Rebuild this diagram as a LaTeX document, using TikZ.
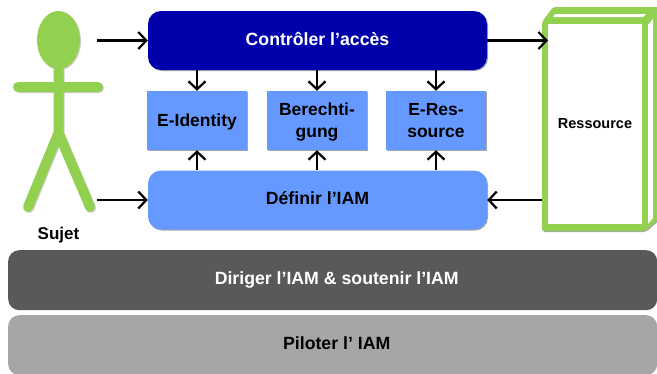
\documentclass[tikz,border=0pt]{standalone}
\usepackage{fontspec}
\setmainfont{Liberation Sans}
\usetikzlibrary{arrows.meta,shadows}
\definecolor{darkblue}{RGB}{0,0,170}
\definecolor{midblue}{RGB}{102,153,255}
\definecolor{figgreen}{RGB}{146,208,80}
\definecolor{darkbar}{RGB}{89,89,89}
\definecolor{lightbar}{RGB}{166,166,166}
\tikzset{
	flow/.style={draw=black, line width=2.2pt, -{Straight Barb[length=8pt,width=17pt,line width=2.2pt]}},
	softshadow/.style={drop shadow={shadow xshift=1pt, shadow yshift=-1pt, fill=black, opacity=0.35}},
	bar/.style={rounded corners=11pt, minimum height=60pt, minimum width=649pt, anchor=north west, inner sep=0pt, text depth=4pt, execute at begin node={\hspace*{8pt}}, font=\bfseries\fontsize{17.7}{20}\selectfont},
	mainbox/.style={fill=#1, rounded corners=13pt, minimum width=339pt, minimum height=59pt, inner sep=0pt, softshadow, text depth=4pt, font=\bfseries\fontsize{17.7}{21}\selectfont},
	subbox/.style={fill=midblue, minimum width=100pt, minimum height=59pt, inner sep=0pt, align=center, softshadow, text depth=0pt, font=\bfseries\fontsize{17.5}{22}\selectfont},
	limb/.style={draw=#1, line width=10pt, line cap=round, line join=round},
	caption/.style={inner sep=0pt, font=\bfseries\fontsize{#1}{18}\selectfont},
}
\begin{document}
\begin{tikzpicture}[x=1pt,y=-1pt]
	\useasboundingbox (0,0) rectangle (657,373);
	% bars
	\node[bar, fill=darkbar, text=white] (lead) at (8,250) {Diriger l'IAM \& soutenir l'IAM};
	\node[bar, fill=lightbar] (pilot) at (8,315) {Piloter l' IAM};
	% boxes
	\node[mainbox=darkblue, text=white] (control) at (317.5,40.5) {Contrôler l'accès};
	\node[mainbox=midblue] (define) at (317.5,200) {Définir l'IAM};
	\node[subbox] (identity) at (197,120.5) {E-Identity};
	\node[subbox] (rights) at (317,120.5) {Berechti-\\gung};
	\node[subbox] (source) at (436,120.5) {E-Res-\\source};
	% resource block
	\fill[figgreen, rounded corners=2pt, softshadow] (542,22) -- (553,7) -- (660,7) -- (660,218) -- (645,231) -- (542,231) -- cycle;
	\fill[white] (548,24) rectangle (642,224);
	\fill[white] (555,14) -- (646,14) -- (643,17) -- (553,17) -- cycle;
	\fill[white] (653,19) -- (653,218) -- (648,224) -- (648,25) -- cycle;
	\node[caption=14.5] (res) at (595,123.5) {Ressource};
	\coordinate (resin) at (548,40.5);
	\coordinate (resout) at (542,200);
	% person
	\fill[black!20] (59.5,41) ellipse (21.5pt and 29pt);
	\draw[limb=black!20] (59.5,66) -- (59.5,133) (19,88) -- (99,88) (29,208) -- (59.5,134) -- (91,208);
	\fill[figgreen] (58.5,40) ellipse (21.5pt and 29pt);
	\draw[limb=figgreen] (58.5,66) -- (58.5,133) (18,87) -- (98,87) (28,207) -- (58.5,133) -- (90,207);
	\coordinate (head) at (97,40.5);
	\coordinate (foot) at (97,200);
	\node[caption=17] (subj) at (58.5,235.5) {Sujet};
	% arrows
	\draw[flow] (head) -- (control.west);
	\draw[flow] (foot) -- (define.west);
	\draw[flow] (control.east) -- (resin);
	\draw[flow] (resout) -- (define.east);
	\foreach \name in {identity,rights,source}{
		\draw[flow] (control.south -| \name.north) -- (\name.north);
		\draw[flow] (define.north -| \name.south) -- (\name.south);
	}
\end{tikzpicture}
\end{document}
